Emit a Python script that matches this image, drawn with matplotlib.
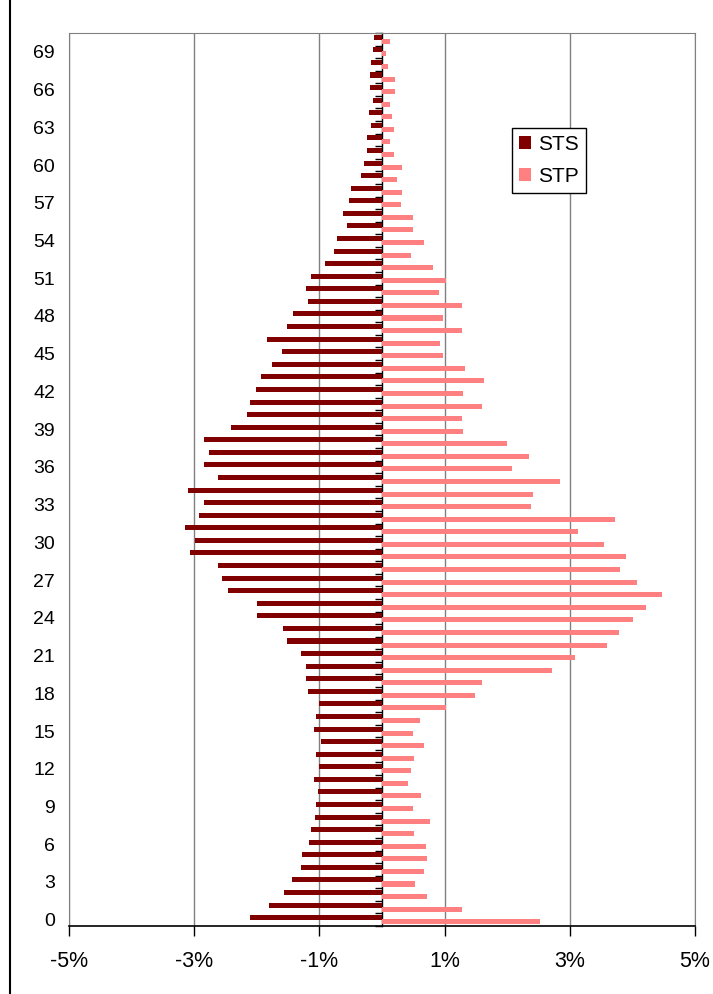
import matplotlib
matplotlib.use('Agg')
import matplotlib.pyplot as plt
from matplotlib.lines import Line2D
import numpy as np

plt.rcParams['font.family'] = ['Liberation Sans', 'DejaVu Sans']

ages = np.arange(0, 71)

# share of each age, in percent (STS drawn to the left)
sts = [-2.11, -1.81, -1.56, -1.44, -1.30, -1.28, -1.16, -1.14, -1.07, -1.05,
       -1.02, -1.09, -1.00, -1.05, -0.98, -1.09, -1.05, -1.00, -1.18, -1.21,
       -1.21, -1.30, -1.51, -1.58, -2.00, -2.00, -2.46, -2.55, -2.62, -3.06,
       -2.99, -3.15, -2.92, -2.85, -3.10, -2.62, -2.85, -2.76, -2.85, -2.41,
       -2.16, -2.11, -2.02, -1.93, -1.76, -1.60, -1.83, -1.51, -1.42, -1.18,
       -1.21, -1.14, -0.91, -0.77, -0.72, -0.56, -0.63, -0.53, -0.49, -0.33,
       -0.28, -0.24, -0.24, -0.17, -0.21, -0.14, -0.19, -0.19, -0.17, -0.14,
       -0.12]
stp = [2.53, 1.28, 0.72, 0.53, 0.67, 0.72, 0.70, 0.51, 0.77, 0.49,
       0.63, 0.42, 0.46, 0.51, 0.67, 0.49, 0.61, 1.02, 1.49, 1.60,
       2.71, 3.08, 3.59, 3.78, 4.01, 4.22, 4.47, 4.08, 3.80, 3.89,
       3.55, 3.13, 3.73, 2.38, 2.42, 2.84, 2.08, 2.35, 1.99, 1.30,
       1.28, 1.60, 1.30, 1.63, 1.33, 0.98, 0.93, 1.28, 0.98, 1.28,
       0.91, 1.02, 0.82, 0.46, 0.67, 0.49, 0.49, 0.30, 0.32, 0.24,
       0.32, 0.19, 0.12, 0.19, 0.16, 0.12, 0.21, 0.21, 0.10, 0.07,
       0.12]

x_ticks = [-5, -3, -1, 1, 3, 5]
x_labels = ['-5%', '-3%', '-1%', '1%', '3%', '5%']

fig = plt.figure(figsize=(7.13, 9.94), dpi=100)
ax = fig.add_axes([69 / 713, 1 - 926 / 994, 626 / 713, 893 / 994])

ax.barh(ages + 0.16, sts, height=0.4, color='#800000', label='STS', zorder=3)
ax.barh(ages - 0.16, stp, height=0.4, color='#FF8080', label='STP', zorder=3)

ax.set_xlim(-5, 5)
ax.set_ylim(-0.5, 70.5)

ax.set_xticks(x_ticks)
ax.set_xticklabels(x_labels, fontsize=15.5)
ax.tick_params(axis='x', direction='out', length=7, width=1, color='black', pad=11)
ax.grid(axis='x', color='#808080', linewidth=1, zorder=0)
ax.set_axisbelow(True)

ax.set_yticks(np.arange(0, 70, 3))
ax.tick_params(axis='y', length=0, labelsize=14, pad=10)

for s in ['left', 'top', 'right']:
    ax.spines[s].set_color('#808080')
ax.spines['bottom'].set_color('black')
ax.spines['bottom'].set_linewidth(1.2)

# category axis along zero, ticks between categories, pointing left
sec = ax.secondary_yaxis(0.5)
sec.set_yticks(np.arange(-0.5, 71, 1))
sec.set_yticklabels([])
sec.tick_params(axis='y', direction='in', length=5, width=1, color='black')
for s in sec.spines.values():
    s.set_color('black')
    s.set_linewidth(1)

leg = ax.legend(loc='upper left', bbox_to_anchor=(512 / 713, 1 - 128 / 994),
                bbox_transform=fig.transFigure, fontsize=15, frameon=True,
                fancybox=False, edgecolor='black', framealpha=1,
                handlelength=0.58, handleheight=0.58, handletextpad=0.33,
                borderpad=0.35, labelspacing=0.6, borderaxespad=0)
leg.get_frame().set_linewidth(1)
leg.set_zorder(5)

fig.add_artist(Line2D([10 / 713, 10 / 713], [0, 1], color='black', linewidth=1.5))

fig.savefig('out.png', dpi=100)
